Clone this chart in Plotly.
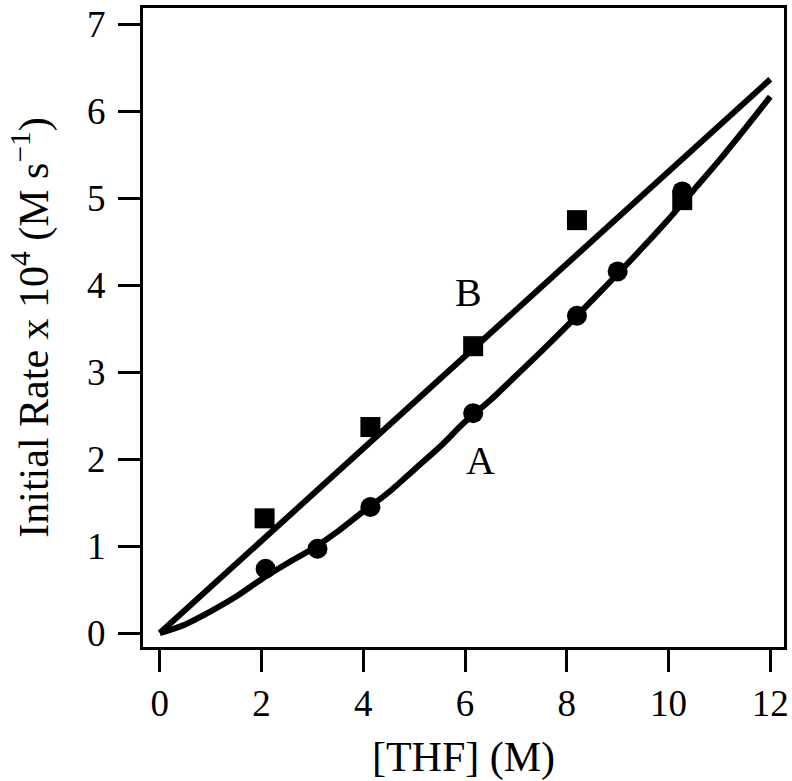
import plotly.graph_objects as go

# Data
b_x = [2.06, 4.14, 6.16, 8.20, 10.27]
b_y = [1.32, 2.37, 3.30, 4.75, 4.98]

a_x = [2.08, 3.10, 4.14, 6.16, 8.20, 9.00, 10.27]
a_y = [0.74, 0.97, 1.45, 2.53, 3.65, 4.16, 5.08]

fitB_x = [0.0, 12.0]
fitB_y = [0.0, 6.37]

fitA_x = [0.0, 0.5, 1.0, 1.5, 2.0, 2.5, 3.0, 3.5, 4.0, 4.5, 5.0, 5.5, 6.0,
          6.5, 7.0, 7.5, 8.0, 8.5, 9.0, 9.5, 10.0, 10.5, 11.0, 11.5, 12.0]
fitA_y = [0.0, 0.10, 0.25, 0.42, 0.62, 0.80, 0.97, 1.17, 1.40, 1.62, 1.88, 2.14, 2.43,
          2.68, 2.96, 3.24, 3.53, 3.83, 4.13, 4.44, 4.76, 5.10, 5.44, 5.80, 6.17]

x_ticks = [0, 2, 4, 6, 8, 10, 12]
y_ticks = [0, 1, 2, 3, 4, 5, 6, 7]

FONT = "Liberation Serif"
BLACK = "#000000"

fig = go.Figure()
fig.add_trace(go.Scatter(x=fitB_x, y=fitB_y, mode="lines",
                         line=dict(color=BLACK, width=6), showlegend=False))
fig.add_trace(go.Scatter(x=fitA_x, y=fitA_y, mode="lines",
                         line=dict(color=BLACK, width=6, shape="spline"), showlegend=False))
fig.add_trace(go.Scatter(x=b_x, y=b_y, mode="markers",
                         marker=dict(symbol="square", size=20, color=BLACK), showlegend=False))
fig.add_trace(go.Scatter(x=a_x, y=a_y, mode="markers",
                         marker=dict(symbol="circle", size=20, color=BLACK), showlegend=False))

fig.add_annotation(x=6.06, y=3.92, text="B", showarrow=False,
                   font=dict(family=FONT, size=40, color=BLACK))
fig.add_annotation(x=6.31, y=1.99, text="A", showarrow=False,
                   font=dict(family=FONT, size=40, color=BLACK))

fig.update_layout(
    width=792, height=781,
    margin=dict(l=143, r=8, t=8, b=134),
    paper_bgcolor="white", plot_bgcolor="white",
    font=dict(family=FONT, color=BLACK),
)
fig.update_xaxes(
    range=[-0.33, 12.27], tickvals=x_ticks, ticktext=[str(v) for v in x_ticks],
    showgrid=False, zeroline=False, showline=True, linewidth=3, linecolor=BLACK,
    mirror=True, ticks="outside", ticklen=22, tickwidth=3, tickcolor=BLACK,
    tickfont=dict(family=FONT, size=37, color=BLACK), automargin=False,
    title=dict(text="[THF] (M)", font=dict(family=FONT, size=42, color=BLACK), standoff=28),
)
fig.update_yaxes(
    range=[-0.16, 7.19], tickvals=y_ticks, ticktext=[str(v) for v in y_ticks],
    showgrid=False, zeroline=False, showline=True, linewidth=3, linecolor=BLACK,
    mirror=True, ticks="outside", ticklen=22, tickwidth=3, tickcolor=BLACK,
    tickfont=dict(family=FONT, size=37, color=BLACK), ticklabelstandoff=5,
    automargin=False,
    title=dict(text="Initial Rate x 10<sup>4</sup> (M s<sup>−1</sup>)",
               font=dict(family=FONT, size=42, color=BLACK), standoff=26),
)

fig.write_html("out.html", config={"displayModeBar": False},
               post_script="document.body.style.margin='0';")
